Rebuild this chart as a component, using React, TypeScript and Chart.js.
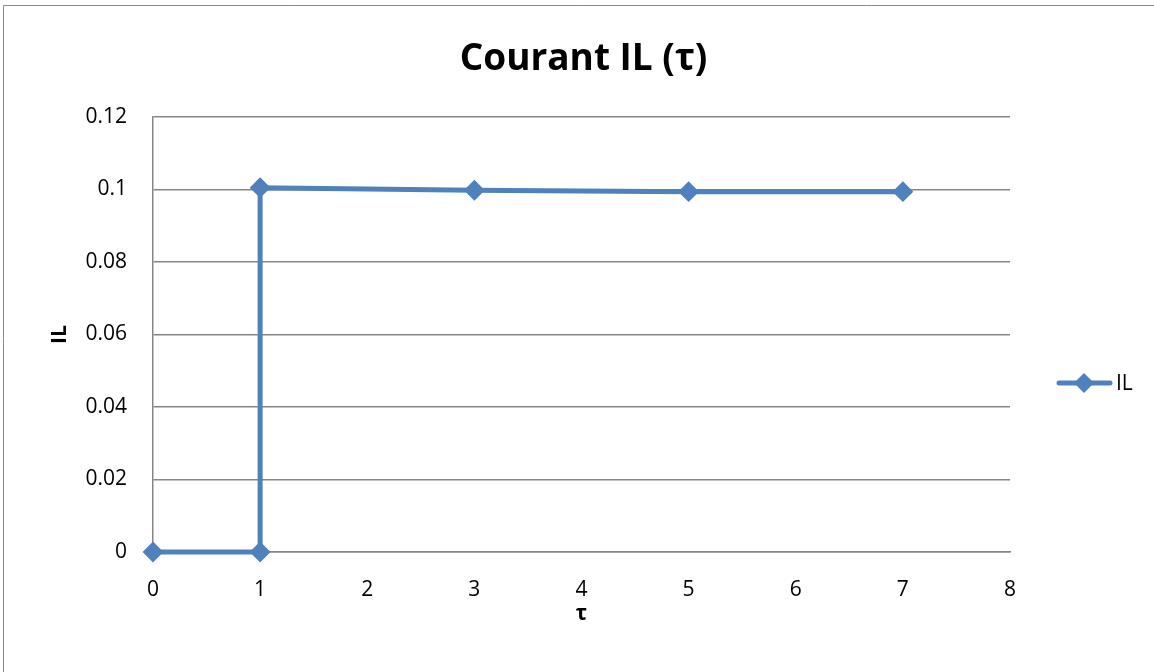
import React, { useEffect, useRef } from "react";
import { Chart, registerables } from "chart.js";

Chart.register(...registerables);

const tauValues = [0, 1, 1, 3, 5, 7];
const ilValues = [0, 0, 0.1005, 0.0998, 0.0994, 0.0994];
const seriesName = "IL";
const chartTitle = "Courant IL (τ)";
const xAxisTitle = "τ";
const yAxisTitle = "IL";

const BLUE = "#4F81BD";
const GRID = "#868686";
const FONT = "'Open Sans', 'Liberation Sans', sans-serif";

const decorPlugin = {
  id: "decor",
  afterDraw(chart: any) {
    const ctx = chart.ctx;
    const area = chart.chartArea;
    ctx.save();
    // outer frame
    ctx.strokeStyle = "#8a8a8a";
    ctx.lineWidth = 1;
    ctx.beginPath();
    ctx.moveTo(3.5, 672);
    ctx.lineTo(3.5, 5.5);
    ctx.lineTo(1154, 5.5);
    ctx.stroke();
    // title
    ctx.fillStyle = "#000";
    ctx.font = `bold 37px ${FONT}`;
    ctx.textAlign = "center";
    ctx.textBaseline = "middle";
    ctx.fillText(chartTitle, (area.left + area.right) / 2 + 2, 59);
    // legend
    const ly = 383;
    ctx.strokeStyle = BLUE;
    ctx.lineWidth = 5;
    ctx.lineCap = "round";
    ctx.beginPath();
    ctx.moveTo(1059, ly);
    ctx.lineTo(1110, ly);
    ctx.stroke();
    ctx.fillStyle = BLUE;
    ctx.beginPath();
    ctx.moveTo(1084, ly - 10);
    ctx.lineTo(1094, ly);
    ctx.lineTo(1084, ly + 10);
    ctx.lineTo(1074, ly);
    ctx.closePath();
    ctx.fill();
    ctx.fillStyle = "#000";
    ctx.font = `21px ${FONT}`;
    ctx.textAlign = "left";
    ctx.fillText(seriesName, 1116, ly + 1);
    ctx.restore();
  },
};

export default function App() {
  const canvasRef = useRef<HTMLCanvasElement | null>(null);

  useEffect(() => {
    const canvas = canvasRef.current;
    if (!canvas) return;
    const points = tauValues.map((x, i) => ({ x, y: ilValues[i] }));
    const chart = new Chart(canvas, {
      type: "scatter",
      data: {
        datasets: [
          {
            label: seriesName,
            data: points,
            showLine: true,
            clip: false,
            borderColor: BLUE,
            backgroundColor: BLUE,
            borderWidth: 5,
            pointStyle: "rectRot",
            pointRadius: 9,
            pointBorderWidth: 2,
            pointBorderColor: BLUE,
            pointBackgroundColor: BLUE,
            tension: 0,
          },
        ],
      },
      plugins: [decorPlugin],
      options: {
        responsive: false,
        animation: false,
        layout: { padding: { top: 117, right: 144, left: 0, bottom: 0 } },
        plugins: {
          legend: { display: false },
          title: { display: false },
          tooltip: { enabled: false },
        },
        scales: {
          x: {
            type: "linear",
            min: 0,
            max: 8,
            afterFit: (s: any) => {
              s.height = 120;
            },
            ticks: {
              stepSize: 1,
              color: "#000",
              padding: 25,
              font: { family: FONT, size: 21 },
            },
            grid: { display: false, drawTicks: false },
            border: { display: true, color: GRID, width: 1.5 },
            title: {
              display: true,
              text: xAxisTitle,
              color: "#000",
              font: { family: FONT, size: 21, weight: "bold" },
              padding: { top: 0, bottom: 45 },
            },
          },
          y: {
            type: "linear",
            min: 0,
            max: 0.12,
            afterFit: (s: any) => {
              s.width = 153;
            },
            ticks: {
              stepSize: 0.02,
              color: "#000",
              padding: 26,
              font: { family: FONT, size: 21 },
              callback: (v: any) => String(Math.round(Number(v) * 100) / 100),
            },
            grid: { color: GRID, lineWidth: 1.5, drawTicks: false },
            border: { display: true, color: GRID, width: 1.5 },
            title: {
              display: true,
              text: yAxisTitle,
              color: "#000",
              font: { family: FONT, size: 21, weight: "bold" },
              padding: { top: 47, bottom: 0 },
            },
          },
        },
      },
    });
    return () => chart.destroy();
  }, []);

  return (
    <div style={{ position: "absolute", left: 0, top: 0, width: 1154, height: 672, background: "#fff" }}>
      <canvas ref={canvasRef} width={1154} height={672} style={{ display: "block" }} />
    </div>
  );
}
